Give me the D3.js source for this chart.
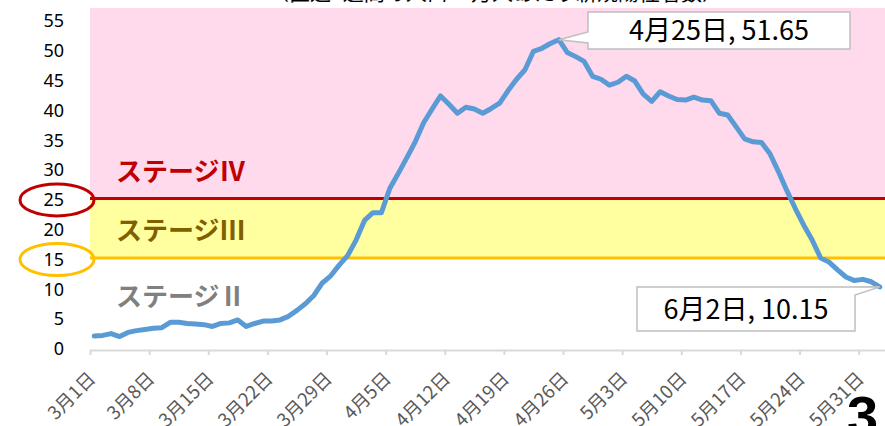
<!DOCTYPE html>
<html>
<head>
    <meta charset="utf-8">
    <script src="https://cdn.jsdelivr.net/npm/d3@7"></script>
    <style>
        body { margin: 0; background: #fff; }
        svg { display: block; }
    </style>
</head>
<body>
    <div id="viz"></div>
    <script type="text/javascript">

    // daily values, 3/1 .. 6/2
    var startDate = Date.UTC(2021, 2, 1);
    var values = [
        1.9, 2.0, 2.3, 1.8, 2.5, 2.8, 3.0, 3.2, 3.3, 4.2,
        4.2, 4.0, 3.9, 3.8, 3.5, 4.0, 4.1, 4.6, 3.5, 4.0,
        4.4, 4.4, 4.6, 5.2, 6.2, 7.3, 8.7, 10.8, 12.0, 13.8,
        15.4, 18.0, 21.3, 22.6, 22.6, 26.7, 29.2, 31.8, 34.5, 37.7,
        40.0, 42.2, 40.8, 39.3, 40.3, 40.0, 39.3, 40.1, 41.0, 43.1,
        45.0, 46.6, 49.7, 50.2, 51.0, 51.65, 49.5, 48.8, 48.0, 45.5,
        45.0, 44.0, 44.5, 45.5, 44.7, 42.5, 41.3, 42.9, 42.2, 41.6,
        41.5, 42.0, 41.5, 41.4, 39.3, 39.0, 37.0, 35.0, 34.5, 34.4,
        32.5, 29.5, 26.3, 23.3, 20.5, 18.0, 15.0, 14.3, 13.0, 11.8,
        11.2, 11.4, 11.0, 10.15
    ];
    var yTicks = [0, 5, 10, 15, 20, 25, 30, 35, 40, 45, 50, 55];
    var xTickLabels = ["3月1日", "3月8日", "3月15日", "3月22日", "3月29日", "4月5日", "4月12日",
                       "4月19日", "4月26日", "5月3日", "5月10日", "5月17日", "5月24日", "5月31日"];
    var stageLines = [25, 15];
    var stageNames = ["ステージⅣ", "ステージⅢ", "ステージⅡ"];
    var stageValues = [29.5, 19.6, 8.5];
    var stageColors = ["#c00000", "#7f6000", "#808080"];
    var callouts = [
        { idx: 55, text: "4月25日, 51.65" },
        { idx: 93, text: "6月2日, 10.15" }
    ];

    var W = 885, H = 426;
    var plotLeft = 90, plotRight = 884, plotTop = 8, plotBottom = 350;
    var jp = "'Noto Sans CJK JP', 'Noto Sans', sans-serif";

    var data = values.map(function(v, i) {
        return { date: new Date(startDate + i * 864e5), value: v };
    });

    var x = d3.scaleUtc()
        .domain([new Date(startDate), new Date(startDate + values.length * 864e5)])
        .range([plotLeft, plotRight]);
    var y = d3.scaleLinear().domain([0, 55]).range([347.3, 19.7]);
    var xc = function(d) { return x(new Date(+d.date + 432e5)); };

    var svg = d3.select("#viz").append("svg")
        .attr("width", W).attr("height", H);

    // title (mostly cut off at the top)
    svg.append("text")
        .attr("x", 268).attr("y", 0)
        .style("font-family", jp).style("font-size", "21px").style("fill", "#000")
        .text("（直近1週間の人口10万人あたり新規陽性者数）");

    // stage bands
    svg.append("rect")
        .attr("x", plotLeft).attr("y", plotTop)
        .attr("width", W - plotLeft).attr("height", y(stageLines[0]) - plotTop)
        .attr("fill", "#ffd9ec");
    svg.append("rect")
        .attr("x", plotLeft).attr("y", y(stageLines[0]))
        .attr("width", W - plotLeft).attr("height", y(stageLines[1]) - y(stageLines[0]))
        .attr("fill", "#ffff9f");

    svg.selectAll(".stageLine").data(stageLines).enter().append("line")
        .attr("x1", plotLeft).attr("x2", W)
        .attr("y1", function(d) { return y(d); })
        .attr("y2", function(d) { return y(d); })
        .attr("stroke", function(d, i) { return i == 0 ? "#c00000" : "#ffc000"; })
        .attr("stroke-width", 3);

    svg.selectAll(".stageName").data(stageNames).enter().append("text")
        .attr("x", 116)
        .attr("y", function(d, i) { return y(stageValues[i]); })
        .attr("dy", "0.36em")
        .style("font-family", jp).style("font-size", "26px").style("font-weight", "bold")
        .style("fill", function(d, i) { return stageColors[i]; })
        .text(function(d) { return d; });

    // y axis labels
    var yAxis = d3.axisLeft(y).tickValues(yTicks).tickSize(0).tickPadding(0);
    var gy = svg.append("g").attr("transform", "translate(64,1.5)").call(yAxis);
    gy.select(".domain").remove();
    gy.selectAll("text")
        .style("font-family", "'Noto Sans', sans-serif").style("font-size", "18px").style("fill", "#000");

    // circles round 25 and 15
    svg.selectAll(".ring").data(stageLines).enter().append("ellipse")
        .attr("cx", 57).attr("cy", function(d) { return y(d) + 1.5; })
        .attr("rx", 37).attr("ry", 16)
        .attr("fill", "none")
        .attr("stroke", function(d, i) { return i == 0 ? "#c00000" : "#ffc000"; })
        .attr("stroke-width", 3);

    // x axis
    var tickDates = xTickLabels.map(function(d, i) { return new Date(startDate + i * 7 * 864e5); });
    var xAxis = d3.axisBottom(x).tickValues(tickDates).tickSize(5)
        .tickFormat(function(d, i) { return xTickLabels[i]; });
    var gx = svg.append("g").attr("transform", "translate(0," + plotBottom + ")").call(xAxis);
    gx.select(".domain").attr("d", "M" + plotLeft + ",0.5H" + W).attr("stroke", "#d9d9d9").attr("stroke-width", 2);
    gx.selectAll(".tick line").attr("stroke", "#d9d9d9").attr("stroke-width", 2);
    gx.selectAll(".tick text")
        .attr("x", 0).attr("y", 0).attr("dy", 0)
        .attr("transform", "translate(6,30) rotate(-45)")
        .style("text-anchor", "end")
        .style("font-family", jp).style("font-size", "18.5px").style("fill", "#595959");

    // line
    var line = d3.line().x(xc).y(function(d) { return y(d.value); });
    svg.append("path").datum(data)
        .attr("d", line)
        .attr("fill", "none")
        .attr("stroke", "#5b9bd5")
        .attr("stroke-width", 5)
        .attr("stroke-linejoin", "round")
        .attr("stroke-linecap", "round");

    // callouts
    var boxes = [
        { x: 588, y: 12, w: 262, h: 37, wedge: "left" },
        { x: 637, y: 287, w: 218, h: 44, wedge: "right" }
    ];
    callouts.forEach(function(c, i) {
        var b = boxes[i], p = data[c.idx];
        var px = xc(p), py = y(p.value);
        var d;
        if (b.wedge == "left") {
            d = "M" + b.x + "," + b.y + "H" + (b.x + b.w) + "V" + (b.y + b.h) + "H" + b.x +
                "V" + (b.y + 31) + "L" + px + "," + py + "L" + b.x + "," + (b.y + 20) + "Z";
        } else {
            d = "M" + b.x + "," + b.y + "H" + (b.x + b.w - 10) + "L" + px + "," + py +
                "L" + (b.x + b.w) + "," + (b.y + 8) + "V" + (b.y + b.h) + "H" + b.x + "Z";
        }
        svg.append("path").attr("d", d)
            .attr("fill", "#fff").attr("stroke", "#bfbfbf").attr("stroke-width", 1.5);
        svg.append("text")
            .attr("x", b.x + b.w / 2).attr("y", b.y + b.h / 2)
            .attr("dy", "0.36em")
            .style("text-anchor", "middle")
            .style("font-family", jp).style("font-size", "27px").style("fill", "#000")
            .text(c.text);
    });

    // page number
    svg.append("text")
        .attr("x", 847).attr("y", 435)
        .style("font-family", "'Liberation Sans', sans-serif").style("font-size", "56px")
        .style("font-weight", "bold").style("fill", "#000")
        .text("3");

    </script>
</body>
</html>
